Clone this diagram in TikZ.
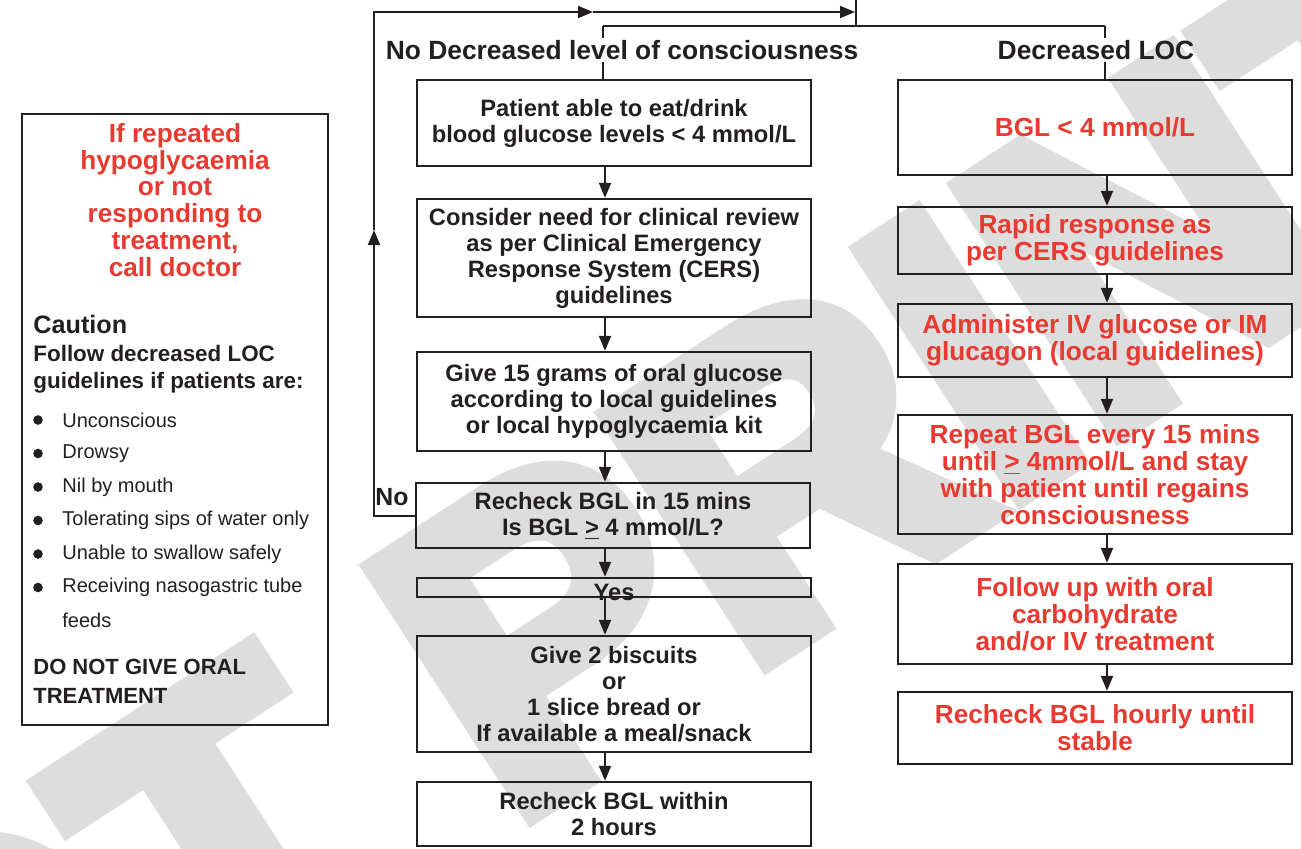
\documentclass[tikz,border=0pt]{standalone}
\usepackage{fontspec}
\setsansfont{Liberation Sans}
\newfontfamily\markfont{Liberation Sans}[BoldFeatures={FakeBold=6}]
\usepackage{xcolor}
\usepackage{tikz}
\usetikzlibrary{positioning, arrows.meta, calc}
\definecolor{hgInk}{RGB}{35, 31, 32}
\definecolor{hgRed}{RGB}{232, 58, 48}
\definecolor{hgMark}{RGB}{221, 221, 221}
\tikzset{
    base/.style={
        font=\sffamily\bfseries,
        align=center,
        text=hgInk
    },
    action/.style={
        base,
        rectangle,
        draw=hgInk,
        line width=1.2pt,
        minimum width=197pt,
        inner sep=0pt,
        font=\sffamily\bfseries\fontsize{11.85}{13}\selectfont
    },
    urgent/.style={
        action,
        text=hgRed,
        font=\sffamily\bfseries\fontsize{13.1}{13.4}\selectfont
    },
    heading/.style={
        base,
        inner sep=1pt,
        font=\sffamily\bfseries\fontsize{13.2}{14}\selectfont
    },
    panel/.style={
        rectangle,
        draw=hgInk,
        line width=1.2pt,
        minimum width=153pt,
        minimum height=305.5pt
    },
    alert/.style={
        base,
        text=hgRed,
        inner sep=0pt,
        font=\sffamily\bfseries\fontsize{13.1}{13.4}\selectfont
    },
    note/.style={
        base,
        align=left,
        anchor=west,
        inner sep=0pt,
        font=\sffamily\bfseries\fontsize{11.2}{13.5}\selectfont
    },
    item/.style={
        anchor=west,
        inner sep=0pt,
        text=hgInk,
        font=\sffamily\fontsize{10}{12}\selectfont
    },
    watermark/.style={
        text=hgMark,
        rotate=33,
        anchor=base west,
        inner sep=0pt,
        font=\markfont\bfseries\fontsize{210}{210}\selectfont
    },
    flow/.style={
        -{Triangle[length=7.5pt, width=6pt]},
        line width=1pt,
        color=hgInk
    },
    link/.style={
        line width=1pt,
        color=hgInk
    }
}

\begin{document}
\begin{tikzpicture}[x=0.5pt, y=-0.5pt]
  \useasboundingbox (0,0) rectangle (1301,848);
  \clip (0,0) rectangle (1301,848);

  % Watermark
  \node[watermark] (wm) at (-958,1779) {DO NOT PRINT};

  % Columns and split
  \coordinate (lcol) at (605,0);
  \coordinate (rcol) at (1107,0);
  \coordinate (feed) at (856,-5);
  \coordinate (split) at (856,26);
  \coordinate (splitL) at (603,26);
  \coordinate (splitR) at (1105,26);

  \node[heading] (hdrL) at (622,50) {No Decreased level of consciousness};
  \node[heading] (hdrR) at (1096,50) {Decreased LOC};

  % No decreased LOC
  \node[action, minimum height=43pt] (pat) at (614,123)
    {Patient able to eat/drink\\blood glucose levels < 4 mmol/L};
  \node[action, minimum height=59pt] (cons) at (614,258)
    {Consider need for clinical review\\as per Clinical Emergency\\Response System (CERS)\\guidelines};
  \node[action, minimum height=49.5pt] (give) at (614,401.5)
    {Give 15 grams of oral glucose\\according to local guidelines\\or local hypoglycaemia kit};
  \node[action, minimum height=32.5pt] (rech) at (613,515.5)
    {Recheck BGL in 15 mins\\Is BGL \underline{>} 4 mmol/L?};
  \node[action, minimum height=9.5pt] (yes) at (614,587.5) {\raisebox{-6.5pt}[0pt][0pt]{Yes}};
  \node[action, minimum height=58pt] (bisc) at (614,694)
    {Give 2 biscuits\\or\\1 slice bread or\\If available a meal/snack};
  \node[action, minimum height=32pt] (two) at (614,814)
    {Recheck BGL within\\2 hours};
  \node[base, inner sep=0pt, font=\sffamily\bfseries\fontsize{12.4}{13}\selectfont] (no) at (392,497) {No};

  % Decreased LOC
  \node[urgent, minimum height=47.5pt] (bgl) at (1095,127.5) {BGL < 4 mmol/L};
  \node[urgent, minimum height=33.5pt] (rapid) at (1095,240.5)
    {Rapid response as\\per CERS guidelines};
  \node[urgent, minimum height=36.5pt] (admin) at (1095,340.5)
    {Administer IV glucose or IM\\glucagon (local guidelines)};
  \node[urgent, minimum height=59.5pt] (rep) at (1095,474.5)
    {Repeat BGL every 15 mins\\until \underline{>} 4mmol/L and stay\\with patient until regains\\consciousness};
  \node[urgent, minimum height=50pt] (foll) at (1095,614)
    {Follow up with oral\\carbohydrate\\and/or IV treatment};
  \node[urgent, minimum height=36pt] (hour) at (1095,728)
    {Recheck BGL hourly until\\stable};

  % Split lines
  \draw[link] (feed) -- (split);
  \draw[link] (splitL) -- (splitR);
  \draw[link] (splitL) -- (hdrL.north -| splitL);
  \draw[link] (hdrL.south -| splitL) -- (pat.north -| splitL);
  \draw[link] (splitR) -- (hdrR.north -| splitR);
  \draw[link] (hdrR.south -| splitR) -- (bgl.north -| splitR);

  % Arrows
  \foreach \a/\b in {pat/cons, cons/give, give/rech, rech/yes, yes/bisc, bisc/two}
    \draw[flow] (\a.south -| lcol) -- (\b.north -| lcol);
  \foreach \a/\b in {bgl/rapid, rapid/admin, admin/rep, rep/foll, foll/hour}
    \draw[flow] (\a.south -| rcol) -- (\b.north -| rcol);

  % Loop back
  \coordinate (loopUp) at (374,230);
  \coordinate (loopTop) at (374,12);
  \coordinate (loopMid) at (593,12);
  \coordinate (loopEnd) at (855,12);
  \draw[flow] (rech.west) -- (rech.west -| loopTop) -- (loopUp);
  \draw[flow] (loopUp) -- (loopTop) -- (loopMid);
  \draw[flow] (loopMid) -- (loopEnd);

  % Side panel
  \node[panel] (info) at (175,419.5) {};
  \node[alert] (call) at (175,200)
    {If repeated\\hypoglycaemia\\or not\\responding to\\treatment,\\call doctor};
  \node[note, font=\sffamily\bfseries\fontsize{12.6}{14}\selectfont] (caut) at (33,324) {Caution};
  \node[note] (follow) at (33,369) {Follow decreased LOC\\guidelines if patients are:};
  \foreach \txt [count=\i] in {Unconscious, Drowsy, Nil by mouth, Tolerating sips of water only, Unable to swallow safely, Receiving nasogastric tube} {
    \fill[hgInk] (38,420+33.5*\i-33.5) circle (2.4pt);
    \node[item] (item\i) at (62,420+33.5*\i-33.5) {\txt};
  }
  \node[item] (feeds) at (62,620) {feeds};
  \node[note, font=\sffamily\bfseries\fontsize{11}{14.5}\selectfont] (oral) at (33,681) {DO NOT GIVE ORAL\\TREATMENT};
\end{tikzpicture}
\end{document}
